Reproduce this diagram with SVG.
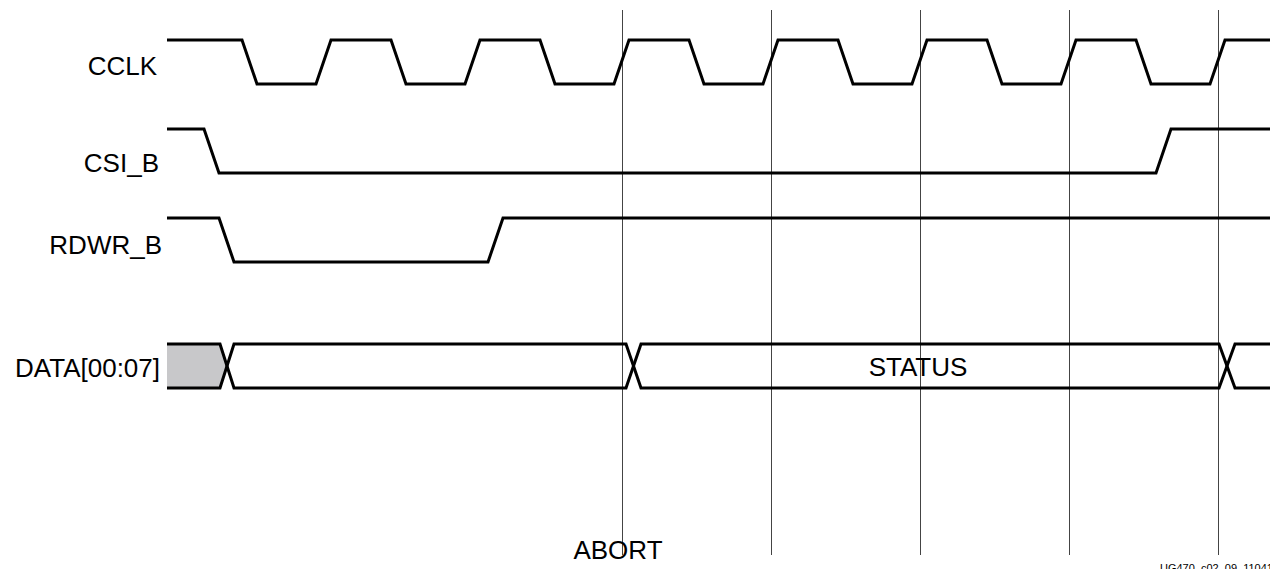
<svg xmlns="http://www.w3.org/2000/svg" width="1270" height="569" viewBox="0 0 1270 569">
<style>
.sig{fill:none;stroke:#000;stroke-width:3;stroke-linejoin:miter}
.grid{stroke:#444;stroke-width:1}
.lbl{font-family:"Liberation Sans",Arial,sans-serif;font-size:26px;fill:#000}
.small{font-family:"Liberation Sans",Arial,sans-serif;font-size:11px;fill:#000}
</style>
<rect width="1270" height="569" fill="#fff"/>
<g id="gridlines">
<line class="grid" x1="622.5" y1="10" x2="622.5" y2="555"/>
<line class="grid" x1="771.5" y1="10" x2="771.5" y2="555"/>
<line class="grid" x1="920.5" y1="10" x2="920.5" y2="555"/>
<line class="grid" x1="1069.5" y1="10" x2="1069.5" y2="555"/>
<line class="grid" x1="1218.5" y1="10" x2="1218.5" y2="555"/>
</g>
<g id="cclk">
<text class="lbl" x="157" y="75" text-anchor="end">CCLK</text>
<path class="sig" d="M167,40 H242 L257,84 H316 L331,40 H391 L406,84 H465 L480,40 H540 L555,84 H614 L629,40 H689 L704,84 H763 L778,40 H838 L853,84 H912 L927,40 H987 L1002,84 H1061 L1076,40 H1136 L1151,84 H1210 L1225,40 H1270"/>
</g>
<g id="csi_b">
<text class="lbl" x="159" y="172" text-anchor="end">CSI_B</text>
<path class="sig" d="M167,129 H204 L219,173 H1156 L1171,129 H1270"/>
</g>
<g id="rdwr_b">
<text class="lbl" x="162" y="254" text-anchor="end">RDWR_B</text>
<path class="sig" d="M167,218 H219 L234,262 H488 L503,218 H1270"/>
</g>
<g id="data">
<text class="lbl" x="160" y="377" text-anchor="end">DATA[00:07]</text>
<polygon points="167,344 220,344 227,366 220,388 167,388" fill="#c8c8ca"/>
<path class="sig" d="M167,344 H220 L234,388 H626 L641,344 H1219 L1235,388 H1270"/>
<path class="sig" d="M167,388 H220 L234,344 H626 L641,388 H1219 L1235,344 H1270"/>
<text class="lbl" x="918" y="376" text-anchor="middle">STATUS</text>
</g>
<g id="abort">
<text class="lbl" x="618" y="559" text-anchor="middle">ABORT</text>
</g>
<text class="small" x="1160" y="572">UG470_c02_09_110413</text>
</svg>
